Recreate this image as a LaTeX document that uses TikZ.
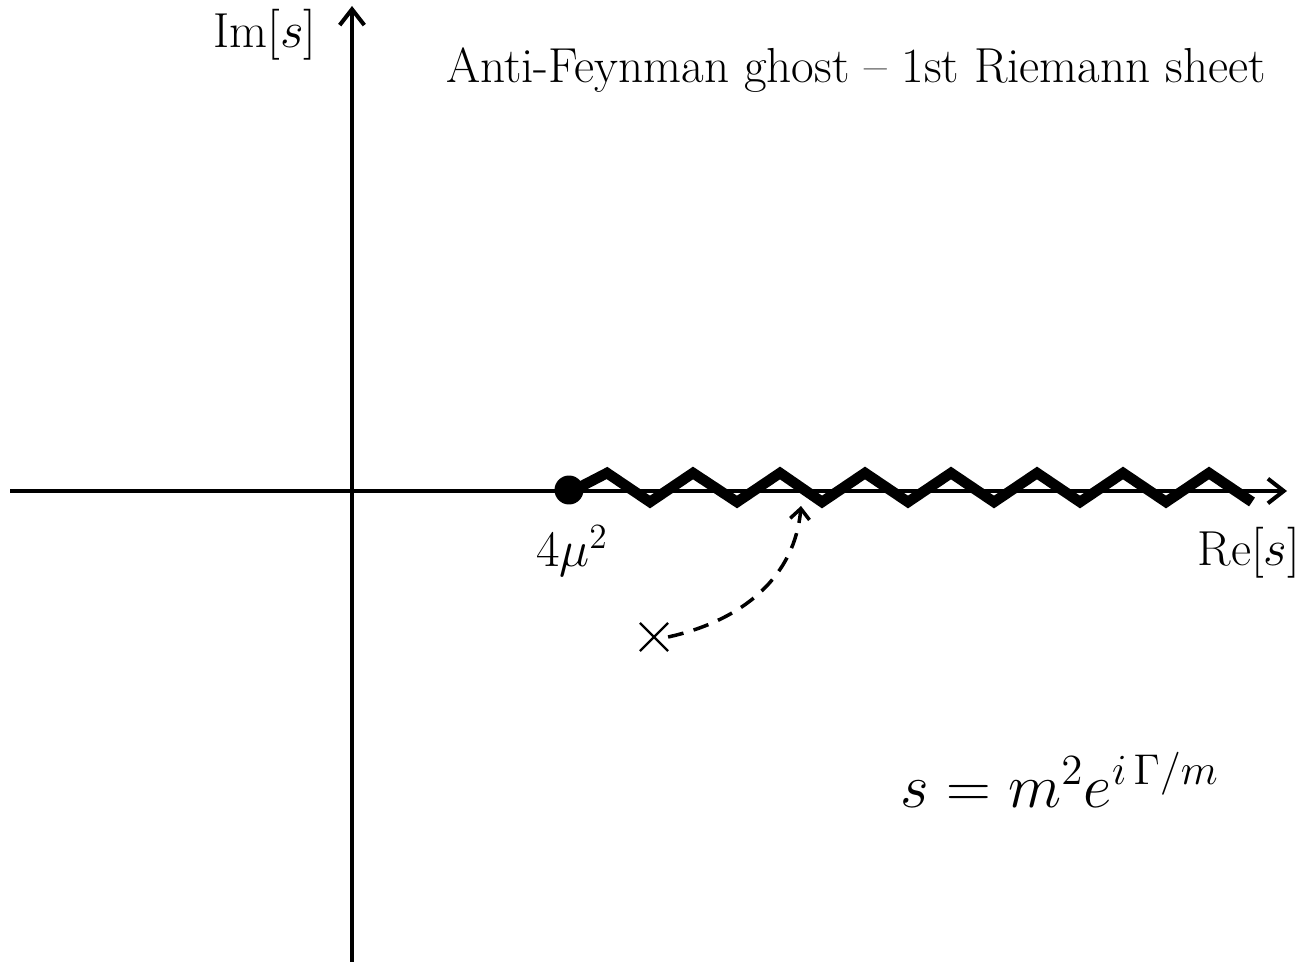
\documentclass[tikz,border=0pt]{standalone}
\usetikzlibrary{arrows.meta}
\begin{document}
\begin{tikzpicture}[x=0.02cm,y=-0.02cm,
  axis/.style={line width=2.3pt,-{Straight Barb[length=9pt,width=14pt,line width=2.3pt]}},
  cut/.style={line width=6pt,line join=miter},
  lbl/.style={font=\fontsize{20}{24}\selectfont,scale=1.4,inner sep=0pt},
  flow/.style={line width=2pt,dash pattern=on 9pt off 6pt,-{Straight Barb[length=6pt,width=11pt,line width=2pt]}}]
\useasboundingbox (0,0) rectangle (1300,962);
% axes
\coordinate (xl) at (10,491);
\coordinate (xr) at (1287,491);
\coordinate (yb) at (352,962);
\coordinate (yt) at (352,6);
\draw[axis] (xl) -- (xr);
\draw[axis] (yb) -- (yt);
% branch cut
\draw[cut] (578,488) -- (607,473) -- (650,502) -- (693,473) -- (737,502) -- (780,473) -- (822,502) -- (865,473) -- (908,502) -- (951,473) -- (994,502) -- (1037,473) -- (1080,502) -- (1123,473) -- (1166,502) -- (1209,473) -- (1252,502);
\node[circle,fill=black,minimum size=0.58cm,inner sep=0pt] (bp) at (569,490) {};
\node[lbl] (bpl) at (572,551) {$4\mu^2$};
% labels
\node[lbl] (im) at (265,35) {Im$[s]$};
\node[lbl] (re) at (1249,553) {Re$[s]$};
\node[lbl] (title) at (856,70) {Anti-Feynman ghost -- 1st Riemann sheet};
\node[inner sep=0pt,font=\fontsize{20}{24}\selectfont,scale=1.7] (eq) at (1060,780) {$s=m^2e^{i\,\Gamma/m}$};
% pole
\node[inner sep=0pt,minimum size=0.55cm] (pole) at (654,637) {};
\draw[line width=1.3pt] (pole.north west) -- (pole.south east) (pole.north east) -- (pole.south west);
\coordinate (tgt) at (801,506);
\draw[flow] (pole.east) .. controls (745,620) and (795,575) .. (tgt);
\end{tikzpicture}
\end{document}
